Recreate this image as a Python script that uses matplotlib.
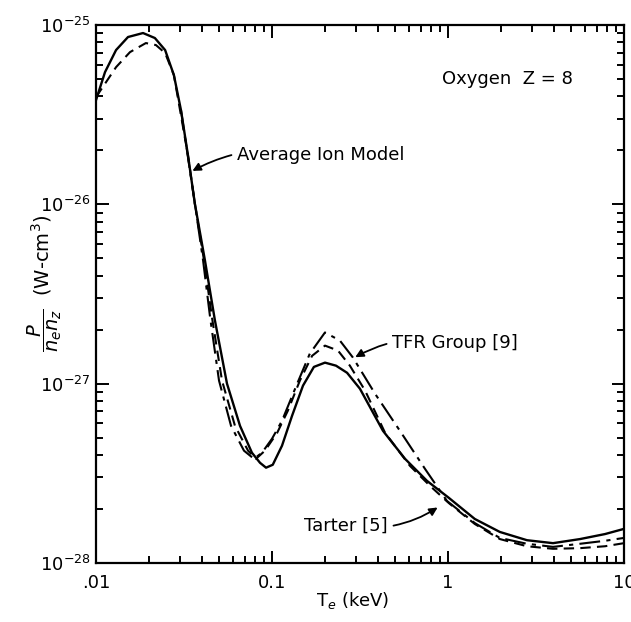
import numpy as np
import matplotlib
matplotlib.use("Agg")
import matplotlib.pyplot as plt
from matplotlib.ticker import FixedLocator, FixedFormatter, LogLocator, NullFormatter

# Average Ion Model (solid)
t_avg = [0.0100, 0.01125, 0.0130, 0.0152, 0.0185, 0.0216, 0.0247, 0.0277, 0.0304, 0.0333,
         0.0365, 0.0416, 0.0474, 0.0555, 0.0658, 0.0769, 0.0855, 0.0925, 0.101, 0.114,
         0.130, 0.150, 0.173, 0.200, 0.231, 0.267, 0.316, 0.427, 0.570, 0.760,
         1.01, 1.42, 1.97, 2.81, 3.95, 5.63, 7.80, 10.0]
p_avg = [3.81e-26, 5.46e-26, 7.25e-26, 8.57e-26, 9.02e-26, 8.46e-26, 7.25e-26, 5.26e-26, 3.35e-26, 1.88e-26,
         1.00e-26, 4.86e-27, 2.25e-27, 1.00e-27, 5.82e-28, 4.12e-28, 3.62e-28, 3.40e-28, 3.53e-28, 4.51e-28,
         6.62e-28, 9.75e-28, 1.24e-27, 1.31e-27, 1.26e-27, 1.15e-27, 9.37e-28, 5.46e-28, 3.81e-28, 2.87e-28,
         2.31e-28, 1.76e-28, 1.49e-28, 1.34e-28, 1.29e-28, 1.36e-28, 1.45e-28, 1.55e-28]

# Tarter [5]
t_tar = [0.0100, 0.0130, 0.0156, 0.0192, 0.0219, 0.0247, 0.0277, 0.0333, 0.0365, 0.0411,
         0.0456, 0.0520, 0.0616, 0.0731, 0.0811, 0.0912, 0.107, 0.123, 0.144, 0.169,
         0.200, 0.237, 0.277, 0.338, 0.439, 0.608, 0.791, 1.01, 1.42, 1.97,
         2.81, 3.95, 5.63, 7.80, 10.0]
p_tar = [3.96e-26, 5.82e-26, 7.06e-26, 7.93e-26, 7.73e-26, 6.98e-26, 5.26e-26, 1.88e-26, 1.00e-26, 4.86e-27,
         2.34e-27, 1.04e-27, 5.82e-28, 4.23e-28, 3.81e-28, 4.23e-28, 5.32e-28, 7.06e-28, 1.04e-27, 1.43e-27,
         1.63e-27, 1.53e-27, 1.26e-27, 9.15e-28, 5.32e-28, 3.48e-28, 2.69e-28, 2.16e-28, 1.65e-28, 1.36e-28,
         1.24e-28, 1.20e-28, 1.21e-28, 1.24e-28, 1.29e-28]

# TFR Group [9]
t_tfr = [0.0304, 0.0365, 0.0406, 0.0445, 0.0500, 0.0585, 0.0693, 0.0790, 0.0877, 0.100,
         0.114, 0.139, 0.164, 0.200, 0.243, 0.288, 0.385, 0.533, 0.740, 0.986,
         1.42, 1.97, 2.81, 3.95, 5.63, 7.80, 10.0]
p_tfr = [3.35e-26, 1.00e-26, 4.86e-27, 2.34e-27, 1.04e-27, 5.82e-28, 4.23e-28, 3.81e-28, 4.12e-28, 4.93e-28,
         6.21e-28, 1.00e-27, 1.47e-27, 1.93e-27, 1.74e-27, 1.40e-27, 8.79e-28, 5.46e-28, 3.35e-28, 2.22e-28,
         1.67e-28, 1.38e-28, 1.28e-28, 1.23e-28, 1.28e-28, 1.33e-28, 1.38e-28]

x_ticks = [0.01, 0.1, 1, 10]
x_labels = ['.01', '0.1', '1', '10']

plt.rcParams['font.family'] = 'DejaVu Sans'
plt.rcParams['mathtext.fontset'] = 'dejavusans'

fig = plt.figure(figsize=(6.31, 6.22), dpi=100, facecolor='white')
ax = fig.add_axes([96 / 631, 1 - 563 / 622, 528 / 631, 538 / 622])

ax.plot(t_avg, p_avg, color='black', lw=1.7, ls='-')
ax.plot(t_tar, p_tar, color='black', lw=1.5, ls=(0, (5, 3)))
ax.plot(t_tfr, p_tfr, color='black', lw=1.5, ls=(0, (10, 3, 2, 3)))

ax.set_xscale('log')
ax.set_yscale('log')
ax.set_xlim(0.01, 10)
ax.set_ylim(1e-28, 1e-25)

ax.xaxis.set_major_locator(FixedLocator(x_ticks))
ax.xaxis.set_major_formatter(FixedFormatter(x_labels))
ax.xaxis.set_minor_locator(LogLocator(base=10, subs=np.arange(2, 10)))
ax.xaxis.set_minor_formatter(NullFormatter())
ax.yaxis.set_minor_locator(LogLocator(base=10, subs=np.arange(2, 10)))
ax.yaxis.set_minor_formatter(NullFormatter())

ax.tick_params(which='both', direction='in', top=True, right=True, width=1.4, labelsize=13)
ax.tick_params(which='major', length=9, pad=8)
ax.tick_params(which='minor', length=5)
ax.tick_params(axis='y', which='major', pad=4)
for s in ax.spines.values():
    s.set_linewidth(1.6)

ax.set_ylabel(r'$\dfrac{P}{n_e n_z}$  (W-cm$^3$)', fontsize=14)
ax.yaxis.set_label_coords(-0.06, 0.52)
ax.set_xlabel(r'T$_e$ (keV)', fontsize=13)
ax.xaxis.set_label_coords(0.487, -0.05)
ax.xaxis.label.set_va('top')

ax.text(0.78, 0.90, 'Oxygen  Z = 8', transform=ax.transAxes, fontsize=13,
        ha='center', va='center')

arrow = dict(arrowstyle='-|>', color='black', lw=1.3, mutation_scale=12)
ax.annotate('Average Ion Model', xy=(0.0342, 1.51e-26), xytext=(0.0632, 1.88e-26),
            fontsize=13, ha='left', va='center',
            arrowprops=dict(connectionstyle='arc3,rad=0.2', **arrow))
ax.annotate('TFR Group [9]', xy=(0.288, 1.38e-27), xytext=(0.481, 1.69e-27),
            fontsize=13, ha='left', va='center',
            arrowprops=dict(connectionstyle='arc3,rad=0.2', **arrow))
ax.annotate('Tarter [5]', xy=(0.90, 2.08e-28), xytext=(0.456, 1.61e-28),
            fontsize=13, ha='right', va='center',
            arrowprops=dict(connectionstyle='arc3,rad=0.2', **arrow))

fig.savefig('out.png', dpi=100, facecolor='white')
